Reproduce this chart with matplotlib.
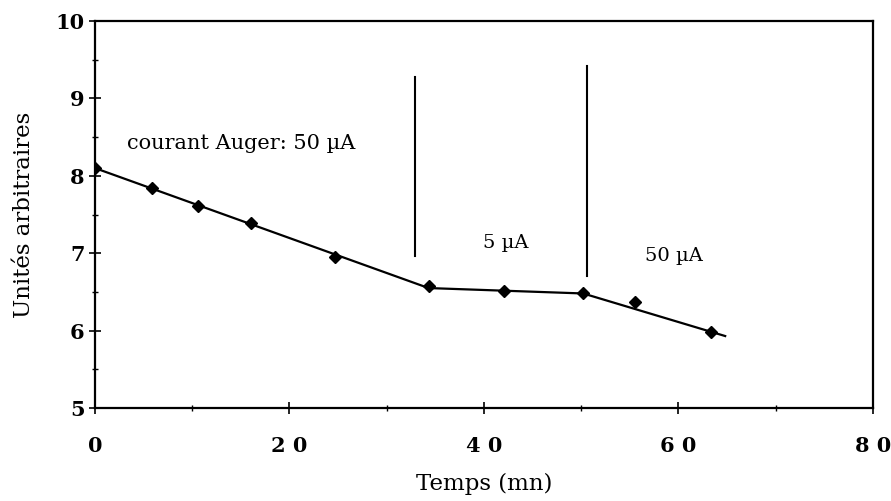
import matplotlib.pyplot as plt

# points mesurés
temps = [0, 5.9, 10.6, 16.0, 24.7, 34.3, 42.1, 50.2, 55.5, 63.3]
unites = [8.10, 7.84, 7.61, 7.39, 6.95, 6.58, 6.51, 6.49, 6.37, 5.98]

# droite tracée à la main (3 segments)
fit_t = [0, 34.3, 50.2, 64.8]
fit_u = [8.10, 6.55, 6.48, 5.93]

# changements de courant
coupures = [32.9, 50.6]
coupures_bas = [6.96, 6.70]
coupures_haut = [9.28, 9.42]

xticks = [0, 20, 40, 60, 80]
xtick_labels = ['0', '2 0', '4 0', '6 0', '8 0']
yticks = [5, 6, 7, 8, 9, 10]

plt.rcParams['font.family'] = ['DejaVu Serif']

fig = plt.figure(figsize=(8.91, 5.01), dpi=100)
ax = fig.add_axes([0.1066, 0.1856, 0.8732, 0.7724])

ax.plot(fit_t, fit_u, '-', color='black', linewidth=1.6)
ax.plot(temps, unites, 'D', color='black', markersize=6)

for xc, yb, yh in zip(coupures, coupures_bas, coupures_haut):
    ax.plot([xc, xc], [yb, yh], color='black', linewidth=1.5)

ax.text(3.3, 8.42, 'courant Auger: 50 µA', fontsize=15, va='center')
ax.text(42.2, 7.13, '5 µA', fontsize=14, ha='center', va='center')
ax.text(59.5, 6.96, '50 µA', fontsize=14, ha='center', va='center')

ax.set_xlim(0, 80)
ax.set_ylim(5, 10)
ax.set_xticks(xticks)
ax.set_xticklabels(xtick_labels)
ax.set_xticks(range(0, 81, 10), minor=True)
ax.set_yticks(yticks)
ax.set_yticks([5.5, 6.5, 7.5, 8.5, 9.5], minor=True)
ax.tick_params(axis='both', which='major', direction='inout', length=8, width=1.2,
               labelsize=15)
ax.tick_params(axis='both', which='minor', direction='inout', length=5, width=1)
ax.tick_params(axis='x', pad=16)
for lab in ax.get_xticklabels() + ax.get_yticklabels():
    lab.set_fontweight('bold')
for sp in ax.spines.values():
    sp.set_linewidth(1.6)

ax.set_xlabel('Temps (mn)', fontsize=16.5, labelpad=12)
ax.set_ylabel('Unités arbitraires', fontsize=16.5, labelpad=15)

plt.savefig('out.png', dpi=100)
